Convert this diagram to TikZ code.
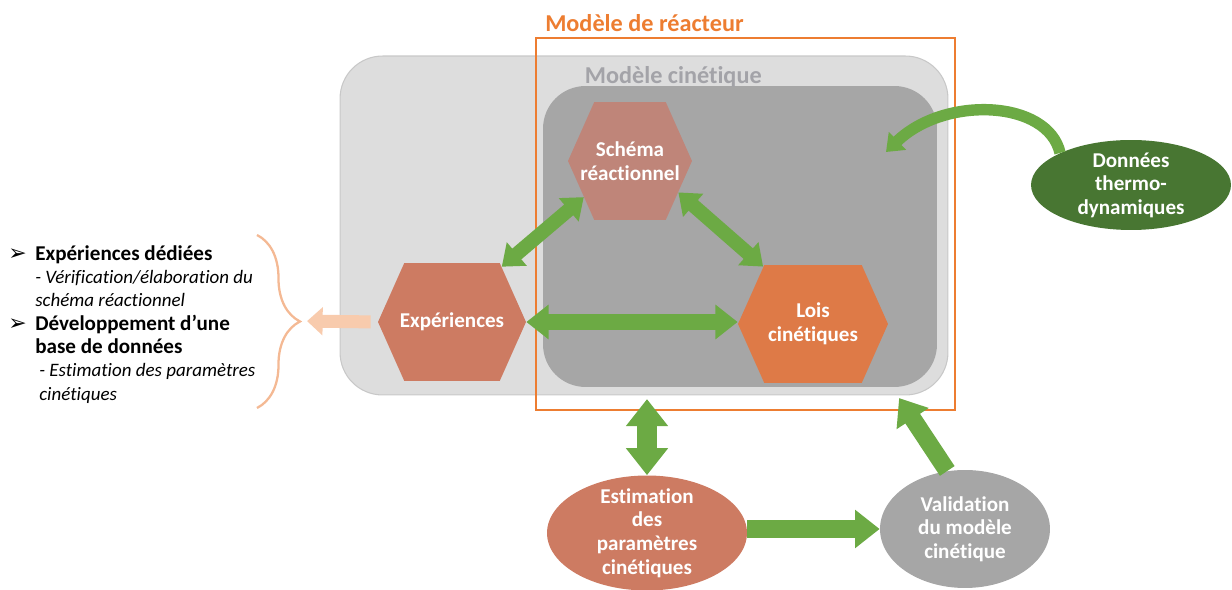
\documentclass[tikz,border=0pt]{standalone}
\usepackage{fontspec}
\setmainfont[Ligatures=NoCommon]{Carlito}
\newfontfamily\symbole{DejaVu Sans}
\usetikzlibrary{shapes.geometric,shapes.symbols,arrows.meta,positioning,calc,decorations.pathreplacing}

\definecolor{reacorange}{RGB}{237,125,49}
\definecolor{grisclair}{RGB}{221,221,221}
\definecolor{grisbord}{RGB}{200,200,200}
\definecolor{grisfonce}{RGB}{166,166,166}
\definecolor{gristitre}{RGB}{163,163,168}
\definecolor{schemarose}{RGB}{191,133,121}
\definecolor{briquerose}{RGB}{205,123,98}
\definecolor{loisorange}{RGB}{222,122,71}
\definecolor{vertfonce}{RGB}{72,118,50}
\definecolor{vertfleche}{RGB}{108,170,68}
\definecolor{peche}{RGB}{248,203,173}
\definecolor{pechefonce}{RGB}{244,185,148}

\newcommand{\puce}{\makebox[0.54cm][l]{\symbole\fontsize{12.5}{13.3}\selectfont ➢}}
\newcommand{\sousligne}[2]{\hspace*{#1}{\fontsize{10.8}{13.3}\selectfont\itshape #2}}

\tikzset{
  cadre/.style={rounded corners=0.85cm, fill=#1, draw=grisbord, line width=0.6pt},
  hexa/.style={shape=signal, signal to=east and west, signal pointer angle=132, fill=#1, inner sep=0pt, minimum height=2.36cm},
  blanc/.style={text=white, font=\bfseries\fontsize{12}{13.4}\selectfont, align=center, inner sep=0pt},
  bulle/.style={ellipse, fill=#1, inner sep=0pt},
  fleche/.style={vertfleche, line width=#1, arrows={Triangle[width=0pt 2.1,length=0pt 1.4]-Triangle[width=0pt 2.1,length=0pt 1.4]}},
  flechesimple/.style={vertfleche, line width=#1, arrows={-Triangle[width=0pt 2.1,length=0pt 1.4]}},
}

\begin{document}
\begin{tikzpicture}[x=0.02cm,y=-0.02cm]
\useasboundingbox (0,0) rectangle (1232,590);

% Cadres du modele
\node[cadre=grisclair, minimum width=12.16cm, minimum height=6.78cm] (cinetique) at (644,225.5) {};
\node[cadre=grisfonce, draw=none, minimum width=7.88cm, minimum height=6.02cm] (noyau) at (740,236.5) {};
\node[above right=-0.04cm and 0.84cm of noyau.north west, inner sep=0pt, text=gristitre, font=\bfseries\fontsize{13.8}{15}\selectfont] (titre cin) {Modèle cinétique};
\node[draw=reacorange, line width=1.3pt, minimum width=8.38cm, minimum height=7.44cm] (reacteur) at (745.5,224) {};
\node[above right=0.1cm and 0.2cm of reacteur.north west, inner sep=0pt, text=reacorange, font=\bfseries\fontsize{13.8}{15}\selectfont] (titre reac) {Modèle de réacteur};

% Hexagones
\node[hexa=schemarose, minimum width=2.48cm] (schema) at (630,161) {};
\node[blanc] (schema t) at (schema) {Schéma\\réactionnel};
\node[hexa=briquerose, minimum width=2.96cm] (exp) at (452,322) {};
\node[blanc] (exp t) at (exp) {Expériences};
\node[hexa=loisorange, minimum width=3.0cm] (lois) at (813,324) {};
\node[blanc] (lois t) at (lois) {Lois\\cinétiques};

% Ellipses
\node[bulle=vertfonce, minimum width=4cm, minimum height=1.8cm] (thermo) at (1131,185) {};
\node[blanc] (thermo t) at (thermo) {Données\\thermo-\\dynamiques};
\node[bulle=briquerose, minimum width=4cm, minimum height=2.3cm] (estim) at (647,533) {};
\node[blanc] (estim t) at (estim) {Estimation\\des\\paramètres\\cinétiques};
\node[bulle=grisfonce, minimum width=3.4cm, minimum height=2.36cm] (valid) at (965,529) {};
\node[blanc] (valid t) at (valid) {Validation\\du modèle\\cinétique};

% Fleches vertes
\draw[fleche=8pt] (schema.218) -- (exp.48);
\draw[fleche=8pt] (schema.-33) -- (lois.131);
\draw[fleche=9pt] (exp.east) -- (exp.east -| lois.west);
\draw[fleche=11pt] (estim.north) -- ($(estim.north |- reacteur.south)+(0,-12)$);
\draw[flechesimple=10pt] (estim.east |- valid.west) -- (valid.west);
\draw[flechesimple=10pt] (valid.107) -- ($(reacteur.south east)+(-57,-13)$);
\coordinate (pointe thermo) at (886,152);
\draw[flechesimple=6.5pt] (thermo.north west) .. controls (1048,100) and (945,95) .. (pointe thermo);

% Liste et accolade
\coordinate (pointe accolade) at (300,321);
\draw[pechefonce, line width=1.3pt, decorate, decoration={brace, amplitude=0.86cm}] (257,235) -- (257,408);
\draw[peche, line width=7.4pt, arrows={-Triangle[width=0pt 2.1,length=0pt 1.2]}, shorten <=4pt, shorten >=4pt] (exp.west) -- (pointe accolade);
\node[anchor=north west, align=left, inner sep=0pt, font=\fontsize{12}{13.3}\selectfont] (liste) at (8,245) {%
\puce\textbf{Expériences dédiées}\\
\sousligne{0.54cm}{- Vérification/élaboration du}\\
\sousligne{0.54cm}{schéma réactionnel}\\
\puce\textbf{Développement d’une}\\
\hspace*{0.54cm}\textbf{base de données}\\
\sousligne{0.62cm}{- Estimation des paramètres}\\
\sousligne{0.62cm}{cinétiques}};
\end{tikzpicture}
\end{document}
